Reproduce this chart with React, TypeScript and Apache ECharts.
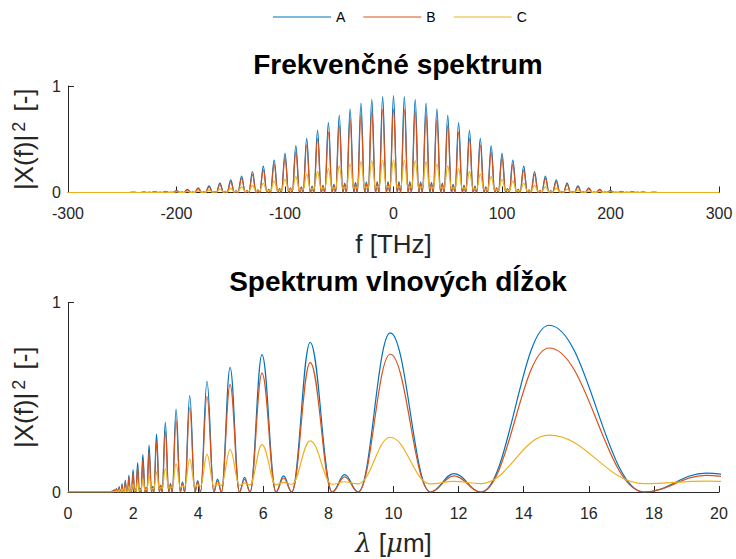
import React, { useEffect, useRef } from "react";
import * as echarts from "echarts";

// ---------- Top plot: frequency spectrum (THz) ----------
const topPeakFreq = [-240, -230, -220, -210, -200, -190, -180, -170, -160, -150, -140, -130, -120, -110, -100, -90, -80, -70, -60, -50, -40, -30, -20, -10, 0, 10, 20, 30, 40, 50, 60, 70, 80, 90, 100, 110, 120, 130, 140, 150, 160, 170, 180, 190, 200, 210, 220, 230, 240];
const topPeakA = [0.002, 0.004, 0.006, 0.011, 0.018, 0.029, 0.043, 0.062, 0.088, 0.118, 0.155, 0.197, 0.248, 0.305, 0.368, 0.438, 0.509, 0.584, 0.657, 0.725, 0.785, 0.84, 0.875, 0.9, 0.91, 0.9, 0.875, 0.84, 0.785, 0.725, 0.657, 0.584, 0.509, 0.438, 0.368, 0.305, 0.248, 0.197, 0.155, 0.118, 0.088, 0.062, 0.043, 0.029, 0.018, 0.011, 0.006, 0.004, 0.002];
const topPeakB = [0.002, 0.003, 0.005, 0.009, 0.016, 0.025, 0.037, 0.053, 0.075, 0.1, 0.132, 0.167, 0.211, 0.264, 0.32, 0.378, 0.446, 0.505, 0.567, 0.627, 0.683, 0.727, 0.76, 0.78, 0.785, 0.78, 0.76, 0.727, 0.683, 0.627, 0.567, 0.505, 0.446, 0.378, 0.32, 0.264, 0.211, 0.167, 0.132, 0.1, 0.075, 0.053, 0.037, 0.025, 0.016, 0.009, 0.005, 0.003, 0.002];
const topPeakC = [0.001, 0.001, 0.002, 0.004, 0.007, 0.011, 0.016, 0.023, 0.032, 0.042, 0.055, 0.07, 0.087, 0.106, 0.124, 0.15, 0.173, 0.199, 0.224, 0.25, 0.27, 0.289, 0.3, 0.305, 0.31, 0.305, 0.3, 0.289, 0.27, 0.25, 0.224, 0.199, 0.173, 0.15, 0.124, 0.106, 0.087, 0.07, 0.055, 0.042, 0.032, 0.023, 0.016, 0.011, 0.007, 0.004, 0.002, 0.001, 0.001];
const topTroughC = [0, 0, 0, 0, 0.001, 0.001, 0.002, 0.003, 0.004, 0.006, 0.008, 0.01, 0.013, 0.016, 0.019, 0.023, 0.027, 0.031, 0.035, 0.038, 0.041, 0.043, 0.044, 0.045, 0.045, 0.045, 0.044, 0.043, 0.041, 0.038, 0.035, 0.031, 0.027, 0.023, 0.019, 0.016, 0.013, 0.01, 0.008, 0.006, 0.004, 0.003, 0.002, 0.001, 0.001, 0, 0, 0, 0];
const topSideFreq = [-245, -235, -225, -215, -205, -195, -185, -175, -165, -155, -145, -135, -125, -115, -105, -95, -85, -75, -65, -55, -45, -35, -25, -15, -5, 5, 15, 25, 35, 45, 55, 65, 75, 85, 95, 105, 115, 125, 135, 145, 155, 165, 175, 185, 195, 205, 215, 225, 235, 245];
const topSideA = [0, 0, 0.001, 0.001, 0.002, 0.003, 0.004, 0.006, 0.008, 0.011, 0.015, 0.019, 0.024, 0.03, 0.037, 0.044, 0.052, 0.06, 0.068, 0.077, 0.085, 0.092, 0.097, 0.1, 0.1, 0.1, 0.1, 0.097, 0.092, 0.085, 0.077, 0.068, 0.06, 0.052, 0.044, 0.037, 0.03, 0.024, 0.019, 0.015, 0.011, 0.008, 0.006, 0.004, 0.003, 0.002, 0.001, 0.001, 0, 0];
const topSideB = [0, 0, 0.001, 0.001, 0.002, 0.003, 0.004, 0.005, 0.007, 0.01, 0.013, 0.017, 0.021, 0.026, 0.032, 0.038, 0.045, 0.052, 0.059, 0.067, 0.074, 0.08, 0.085, 0.088, 0.088, 0.088, 0.088, 0.085, 0.08, 0.074, 0.067, 0.059, 0.052, 0.045, 0.038, 0.032, 0.026, 0.021, 0.017, 0.013, 0.01, 0.007, 0.005, 0.004, 0.003, 0.002, 0.001, 0.001, 0, 0];
const topSideC = [0, 0, 0, 0, 0.001, 0.001, 0.002, 0.003, 0.005, 0.007, 0.009, 0.012, 0.015, 0.019, 0.024, 0.028, 0.033, 0.038, 0.043, 0.047, 0.051, 0.054, 0.056, 0.057, 0.057, 0.057, 0.057, 0.056, 0.054, 0.051, 0.047, 0.043, 0.038, 0.033, 0.028, 0.024, 0.019, 0.015, 0.012, 0.009, 0.007, 0.005, 0.003, 0.002, 0.001, 0.001, 0, 0, 0, 0];
const topLobeHalfWidth = 3.35;
const topFreqTicks = { min: -300, max: 300, step: 100 };

// ---------- Bottom plot: wavelength spectrum (um), ordered by increasing wavelength ----------
const botZeroLo = [1.341, 1.404, 1.467, 1.549, 1.634, 1.728, 1.833, 1.952, 2.088, 2.245, 2.426, 2.64, 2.894, 3.203, 3.586, 4.073, 4.713, 5.592, 6.873, 8.915, 12.685];
const botPeakLam = [1.36, 1.42, 1.49, 1.57, 1.66, 1.76, 1.87, 2.0, 2.14, 2.3, 2.49, 2.72, 2.99, 3.32, 3.74, 4.27, 4.98, 5.96, 7.44, 9.9, 14.78];
const botZeroHi = [1.383, 1.45, 1.523, 1.605, 1.695, 1.797, 1.911, 2.042, 2.191, 2.363, 2.565, 2.805, 3.094, 3.45, 3.899, 4.481, 5.268, 6.39, 8.119, 11.132, 17.699];
const botSideLam = [1.393, 1.461, 1.536, 1.619, 1.711, 1.815, 1.932, 2.065, 2.217, 2.394, 2.602, 2.849, 3.148, 3.517, 3.984, 4.594, 5.425, 6.623, 8.499, 11.858, 19.608];
const botPeakA = [0.006, 0.011, 0.018, 0.029, 0.043, 0.062, 0.088, 0.118, 0.155, 0.197, 0.248, 0.305, 0.368, 0.438, 0.509, 0.584, 0.657, 0.725, 0.789, 0.84, 0.88];
const botPeakB = [0.005, 0.009, 0.016, 0.025, 0.037, 0.053, 0.075, 0.1, 0.132, 0.167, 0.211, 0.264, 0.32, 0.378, 0.446, 0.505, 0.567, 0.627, 0.683, 0.727, 0.76];
const botPeakC = [0.002, 0.004, 0.007, 0.011, 0.016, 0.023, 0.032, 0.042, 0.055, 0.07, 0.087, 0.106, 0.124, 0.15, 0.173, 0.199, 0.224, 0.25, 0.27, 0.289, 0.3];
const botTroughC = [0, 0, 0.001, 0.001, 0.002, 0.003, 0.004, 0.006, 0.008, 0.01, 0.013, 0.016, 0.019, 0.023, 0.027, 0.031, 0.035, 0.038, 0.041, 0.043, 0.044];
const botSideA = [0.001, 0.002, 0.003, 0.004, 0.006, 0.008, 0.011, 0.015, 0.019, 0.024, 0.03, 0.037, 0.044, 0.052, 0.06, 0.068, 0.077, 0.085, 0.092, 0.097, 0.1];
const botSideB = [0.001, 0.002, 0.003, 0.004, 0.005, 0.007, 0.01, 0.013, 0.017, 0.021, 0.026, 0.032, 0.038, 0.045, 0.052, 0.059, 0.067, 0.074, 0.08, 0.085, 0.088];
const botSideC = [0, 0.001, 0.001, 0.002, 0.003, 0.005, 0.007, 0.009, 0.012, 0.015, 0.019, 0.024, 0.028, 0.033, 0.038, 0.043, 0.047, 0.051, 0.054, 0.056, 0.057];
const botStart = [[0, 0], [1.2, 0]];
const botEnd = { lam: 21.98, troughC: 0.045 };

const seriesNames = ["A", "B", "C"];
const colors = ["#0072BD", "#D95319", "#EDB120"];

function buildTop(peaks: number[], sides: number[], troughs: number[] | null) {
  const pts: number[][] = [[topFreqTicks.min, 0]];
  for (let i = 0; i < topSideFreq.length; i++) {
    pts.push([topSideFreq[i], sides[i]]);
    if (i < topPeakFreq.length) {
      const t = troughs ? troughs[i] : 0;
      pts.push([topPeakFreq[i] - topLobeHalfWidth, t]);
      pts.push([topPeakFreq[i], peaks[i]]);
      pts.push([topPeakFreq[i] + topLobeHalfWidth, t]);
    }
  }
  pts.push([topFreqTicks.max, 0]);
  return pts;
}

function buildBot(peaks: number[], sides: number[], troughs: number[] | null, endTrough: number) {
  const pts: number[][] = botStart.map((p) => [p[0], p[1]]);
  for (let i = 0; i < botPeakLam.length; i++) {
    const t = troughs ? troughs[i] : 0;
    pts.push([botZeroLo[i], t]);
    pts.push([botPeakLam[i], peaks[i]]);
    pts.push([botZeroHi[i], t]);
    pts.push([botSideLam[i], sides[i]]);
  }
  pts.push([botEnd.lam, endTrough]);
  return pts;
}

const FONT = "Liberation Sans, Arial, Helvetica, sans-serif";
const INK = "#262626";

export default function App() {
  const ref = useRef<HTMLDivElement>(null);
  useEffect(() => {
    if (!ref.current) return;
    const chart = echarts.init(ref.current, null, { renderer: "svg" });

    const topData = [
      buildTop(topPeakA, topSideA, null),
      buildTop(topPeakB, topSideB, null),
      buildTop(topPeakC, topSideC, topTroughC),
    ];
    const botData = [
      buildBot(botPeakA, botSideA, null, 0),
      buildBot(botPeakB, botSideB, null, 0),
      buildBot(botPeakC, botSideC, botTroughC, botEnd.troughC),
    ];

    const yName = "{a||X(f)|}{s|2}{a| [-]}";
    const yNameStyle = {
      color: INK,
      fontFamily: FONT,
      rich: {
        a: { fontSize: 26, lineHeight: 28, fontFamily: FONT, color: INK },
        s: { fontSize: 18, lineHeight: 6, fontFamily: FONT, color: INK, verticalAlign: "top", padding: [0, 3, 0, 3] },
      },
    };

    const axisCommon = {
      axisLine: { show: true, onZero: false, lineStyle: { color: INK, width: 1 } },
      axisTick: { show: true, inside: true, length: 6, lineStyle: { color: INK } },
      splitLine: { show: false },
    };

    const lineSeries = (name: string, idx: number, axisIdx: number, data: number[][]) => ({
      type: "line",
      name,
      xAxisIndex: axisIdx,
      yAxisIndex: axisIdx,
      data,
      showSymbol: false,
      symbol: "none",
      smooth: 0.4,
      smoothMonotone: "x",
      clip: true,
      lineStyle: { color: colors[idx], width: 1.2 },
      itemStyle: { color: colors[idx] },
      emphasis: { disabled: true },
    });

    chart.setOption({
      animation: false,
      backgroundColor: "#ffffff",
      textStyle: { fontFamily: FONT },
      title: [
        {
          text: "Frekvenčné spektrum",
          left: 393,
          textAlign: "center",
          top: 45,
          textStyle: { fontSize: 28, fontWeight: "bold", color: "#000", fontFamily: FONT },
        },
        {
          text: "Spektrum vlnových dĺžok",
          left: 393,
          textAlign: "center",
          top: 262,
          textStyle: { fontSize: 28, fontWeight: "bold", color: "#000", fontFamily: FONT },
        },
      ],
      legend: {
        data: seriesNames.map((n, i) => ({ name: n, itemStyle: { color: colors[i] } })),
        top: 5,
        left: 268,
        icon: "rect",
        itemWidth: 58,
        itemHeight: 1.2,
        itemGap: 18,
        textStyle: { fontSize: 14, color: "#000", fontFamily: FONT },
      },
      grid: [
        { left: 68, right: 17, top: 86, height: 106.5 },
        { left: 68, right: 17, top: 302.5, height: 189.5 },
      ],
      xAxis: [
        {
          type: "value",
          gridIndex: 0,
          min: topFreqTicks.min,
          max: topFreqTicks.max,
          interval: topFreqTicks.step,
          ...axisCommon,
          axisLabel: { fontSize: 16, color: INK, fontFamily: FONT, margin: 13 },
          name: "f [THz]",
          nameLocation: "middle",
          nameGap: 38,
          nameTextStyle: { fontSize: 26, color: INK, fontFamily: FONT },
        },
        {
          type: "value",
          gridIndex: 1,
          min: 0,
          max: 20,
          interval: 2,
          ...axisCommon,
          axisLabel: { fontSize: 16, color: INK, fontFamily: FONT, margin: 13 },
          name: "{i|λ} [{i|μ}m]",
          nameLocation: "middle",
          nameGap: 38,
          nameTextStyle: {
            fontSize: 26,
            color: INK,
            fontFamily: FONT,
            rich: { i: { fontSize: 26, fontStyle: "italic", color: INK, fontFamily: "DejaVu Serif, serif" } },
          },
        },
      ],
      yAxis: [
        {
          type: "value",
          gridIndex: 0,
          min: 0,
          max: 1,
          interval: 1,
          ...axisCommon,
          axisLabel: { fontSize: 16, color: INK, fontFamily: FONT, margin: 7 },
          name: yName,
          nameLocation: "middle",
          nameGap: 30,
          nameTextStyle: yNameStyle,
        },
        {
          type: "value",
          gridIndex: 1,
          min: 0,
          max: 1,
          interval: 1,
          ...axisCommon,
          axisLabel: { fontSize: 16, color: INK, fontFamily: FONT, margin: 7 },
          name: yName,
          nameLocation: "middle",
          nameGap: 30,
          nameTextStyle: yNameStyle,
        },
      ],
      series: [
        ...topData.map((d, i) => lineSeries(seriesNames[i], i, 0, d)),
        ...botData.map((d, i) => lineSeries(seriesNames[i], i, 1, d)),
      ],
    });

    return () => chart.dispose();
  }, []);

  return (
    <div
      ref={ref}
      style={{ position: "absolute", left: 0, top: 0, width: 736, height: 559, background: "#fff" }}
    />
  );
}
